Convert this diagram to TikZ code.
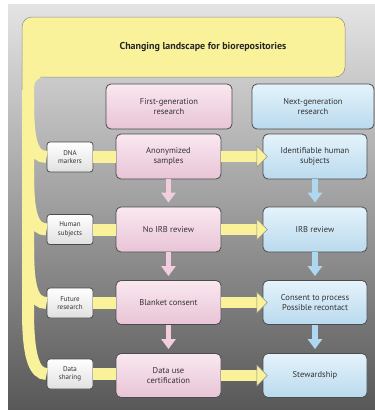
\documentclass[tikz,border=0pt]{standalone}
\usepackage{fontspec}
\setmainfont{PT Sans}
\usetikzlibrary{arrows.meta}

\definecolor{bandyellow}{RGB}{250,242,155}
\definecolor{pinktop}{RGB}{250,232,240}
\definecolor{pinkbot}{RGB}{232,196,214}
\definecolor{bluetop}{RGB}{228,243,251}
\definecolor{bluebot}{RGB}{186,218,238}
\definecolor{pinkarrow}{RGB}{242,205,222}
\definecolor{bluearrow}{RGB}{175,215,240}
\definecolor{paneltop}{RGB}{228,228,228}
\definecolor{panelbot}{RGB}{88,88,88}

\tikzset{
	box/.style={draw=black!70, line width=0.8pt, rounded corners=5pt, align=center,
		text=black!80, font=\fontsize{8.5}{10}\selectfont, inner sep=1pt},
	pinkbox/.style={box, top color=pinktop, bottom color=pinkbot},
	bluebox/.style={box, top color=bluetop, bottom color=bluebot},
	tagbox/.style={box, top color=white, bottom color=black!12, rounded corners=3pt,
		minimum width=46pt, minimum height=30pt, font=\fontsize{7}{8.5}\selectfont},
	yband/.style={line width=12pt, draw=bandyellow},
	yarrow/.style={line width=11pt, draw=bandyellow, shorten >=-5pt,
		-{Triangle[length=11pt, width=22pt, fill=bandyellow, color=black!45, line width=0.5pt]}},
	parrow/.style={line width=5.5pt, draw=pinkarrow, shorten >=4pt,
		-{Triangle[length=10pt, width=14pt]}},
	barrow/.style={line width=5.5pt, draw=bluearrow, shorten >=4pt,
		-{Triangle[length=10pt, width=14pt]}}
}

\begin{document}
\begin{tikzpicture}[x=1pt, y=-1pt]
			%%%%% START %%%%%
			\useasboundingbox (0,0) rectangle (375,410);
			\shade[top color=paneltop, bottom color=panelbot] (8,4) rectangle (375,410);
			
			% yellow frame
			\fill[bandyellow, rounded corners=10pt] (22,150) |- (345,17) |- (34,77) -- (34,150) -- cycle;
			\draw[black!45, line width=0.5pt, rounded corners=10pt] (22,90) |- (345,17) |- (40,77);
			\node[font=\bfseries\fontsize{10}{12}\selectfont, text=black!85] (title) at (203,47) {Changing landscape for biorepositories};
			
			% headers
			\node[pinkbox, minimum width=126pt, minimum height=45pt] (fgen) at (169,106.5) {First-generation\\research};
			\node[bluebox, minimum width=122pt, minimum height=45pt] (ngen) at (313,106.5) {Next-generation\\research};
			
			% left tags
			\node[tagbox] (dna) at (70,157) {DNA\\markers};
			\node[tagbox] (human) at (70,229.5) {Human\\subjects};
			\node[tagbox] (future) at (70,303) {Future\\research};
			\node[tagbox] (sharing) at (70,374) {Data\\sharing};
			
			% first generation
			\node[pinkbox, minimum width=105pt, minimum height=45pt] (anon) at (168.5,156.5) {Anonymized\\samples};
			\node[pinkbox, minimum width=105pt, minimum height=45pt] (noirb) at (168.5,229.5) {No IRB review};
			\node[pinkbox, minimum width=105pt, minimum height=44pt] (blanket) at (168.5,302.5) {Blanket consent};
			\node[pinkbox, minimum width=105pt, minimum height=44pt] (datause) at (168.5,375.5) {Data use\\certification};
			
			% next generation
			\node[bluebox, minimum width=104pt, minimum height=45pt] (ident) at (315,156.5) {Identifiable human\\subjects};
			\node[bluebox, minimum width=104pt, minimum height=45pt] (irb) at (315,229.5) {IRB review};
			\node[bluebox, minimum width=104pt, minimum height=44pt] (consent) at (315,302.5) {Consent to process\\Possible recontact};
			\node[bluebox, minimum width=104pt, minimum height=44pt] (steward) at (315,375.5) {Stewardship};
			
			% band and branches
			\coordinate (bandtop) at (28,140);
			\coordinate (bandbend) at (28,310);
			\draw[yband] (bandtop) -- (bandbend) .. controls (28,356) and (34,374) .. (sharing.west);
			\coordinate (br1) at (28,100);
			\coordinate (br2) at (28,172);
			\coordinate (br3) at (28,246);
			\draw[yband] (br1) .. controls (28,140) and (32,157) .. (dna.west);
			\draw[yband] (br2) .. controls (28,212) and (32,229.5) .. (human.west);
			\draw[yband] (br3) .. controls (28,286) and (32,303) .. (future.west);
			
			% tags to first generation
			\draw[yband] (dna.east) -- (anon.west |- dna.east);
			\draw[yband] (human.east) -- (noirb.west |- human.east);
			\draw[yband] (future.east) -- (blanket.west |- future.east);
			\draw[yband] (sharing.east) -- (datause.west |- sharing.east);
			
			% first to next generation
			\draw[yarrow] (anon.east) -- (ident.west);
			\draw[yarrow] (noirb.east) -- (irb.west);
			\draw[yarrow] (blanket.east) -- (consent.west);
			\draw[yarrow] (datause.east) -- (steward.west);
			
			% down arrows
			\draw[parrow] (anon.south) -- (noirb.north);
			\draw[parrow] (noirb.south) -- (blanket.north);
			\draw[parrow] (blanket.south) -- (datause.north);
			\draw[barrow] (ident.south) -- (irb.north);
			\draw[barrow] (irb.south) -- (consent.north);
			\draw[barrow] (consent.south) -- (steward.north);
			
			%%%%% END %%%%%
\end{tikzpicture}
\end{document}
